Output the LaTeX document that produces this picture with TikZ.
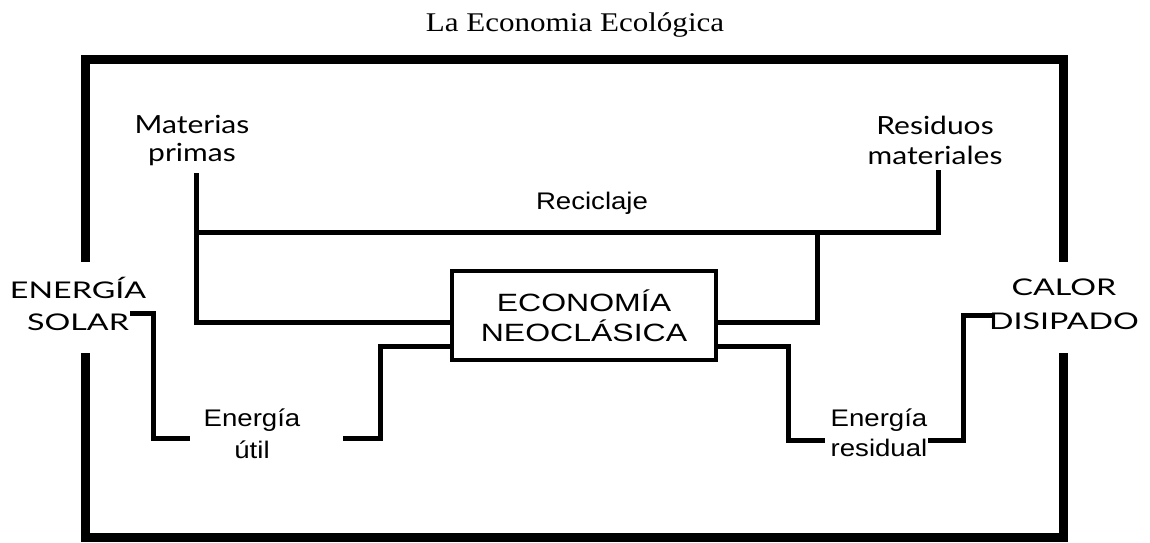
\documentclass[tikz,border=0pt]{standalone}
\usepackage{fontspec}
\setmainfont{Liberation Serif}
\newfontfamily\titlefont[FakeStretch=1.15]{Liberation Serif}
\newfontfamily\lblfont[FakeStretch=1.15]{Liberation Sans}
\newfontfamily\boxfont[FakeStretch=1.28]{Liberation Sans}
\newfontfamily\matfont[FakeStretch=1.2]{Lato}
\newfontfamily\capfont[FakeStretch=1.4]{Lato}
\usetikzlibrary{positioning}

\begin{document}
\begin{tikzpicture}
    [x=10pt,y=10pt,
     conn/.style={line width=5pt, line join=miter},
     frame/.style={line width=9pt, line join=miter},
     every node/.style={align=center, inner sep=2pt}]
  \useasboundingbox (0,0) rectangle (115,54.2);

  \node[font=\titlefont\fontsize{27}{30}\selectfont] (title) at (57.5,51.7) {La Economia Ecológica};

  % outer frame, open at both sides
  \draw[frame] (8.55,28.0) -- (8.55,48.25) -- (106.3,48.25) -- (106.3,28.0);
  \draw[frame] (8.55,18.9) -- (8.55,0.5) -- (106.3,0.5) -- (106.3,18.9);

  \node[draw, line width=4pt, minimum width=264pt, minimum height=89pt,
        font=\boxfont\fontsize{25}{30}\selectfont] (eco) at (58.4,22.65) {ECONOMÍA\\NEOCLÁSICA};

  \node[font=\capfont\fontsize{23}{32}\selectfont] (solar) at (7.8,23.8) {ENERGÍA\\SOLAR};
  \node[font=\capfont\fontsize{23}{34}\selectfont] (calor) at (106.4,23.75) {CALOR\\DISIPADO};
  \node[font=\matfont\fontsize{25}{28}\selectfont] (mat) at (19.2,40.1) {Materias\\primas};
  \node[font=\matfont\fontsize{25}{30}\selectfont] (res) at (93.5,40.2) {Residuos\\materiales};
  \node[font=\lblfont\fontsize{24}{30}\selectfont] (recic) at (59.2,33.9) {Reciclaje};
  \node[font=\lblfont\fontsize{24}{32}\selectfont] (util) at (25.2,10.8) {Energía\\útil};
  \node[font=\lblfont\fontsize{24}{30}\selectfont] (resid) at (87.9,10.9) {Energía\\residual};

  \coordinate (hiY) at (0,22.0);
  \coordinate (loY) at (0,19.6);
  \coordinate (matTop) at (19.6,36.9);
  \coordinate (resTop) at (93.8,37.2);
  \coordinate (recL) at (19.6,31.0);
  \coordinate (recJ) at (81.7,31.0);
  \coordinate (solarEnd) at (13.0,22.9);
  \coordinate (solarStep) at (15.3,10.4);
  \coordinate (utilL) at (19.0,10.4);
  \coordinate (utilStep) at (38.0,10.4);
  \coordinate (utilR) at (34.3,10.4);
  \coordinate (residStep) at (78.8,10.2);
  \coordinate (residL) at (82.5,10.2);
  \coordinate (residR) at (92.8,10.2);
  \coordinate (calorEnd) at (99.3,22.7);
  \coordinate (calorStep) at (96.3,10.2);

  % materials and recycling
  \draw[conn] (matTop) |- (eco.west |- hiY);
  \draw[conn] (recL) -| (resTop);
  \draw[conn] (eco.east |- hiY) -| (recJ);

  % energy steps
  \foreach \from/\step/\to in {solarEnd/solarStep/utilL, eco.west |- loY/utilStep/utilR,
                               eco.east |- loY/residStep/residL, calorEnd/calorStep/residR}
    \draw[conn] (\from) -| (\step) -- (\to);
\end{tikzpicture}
\end{document}
